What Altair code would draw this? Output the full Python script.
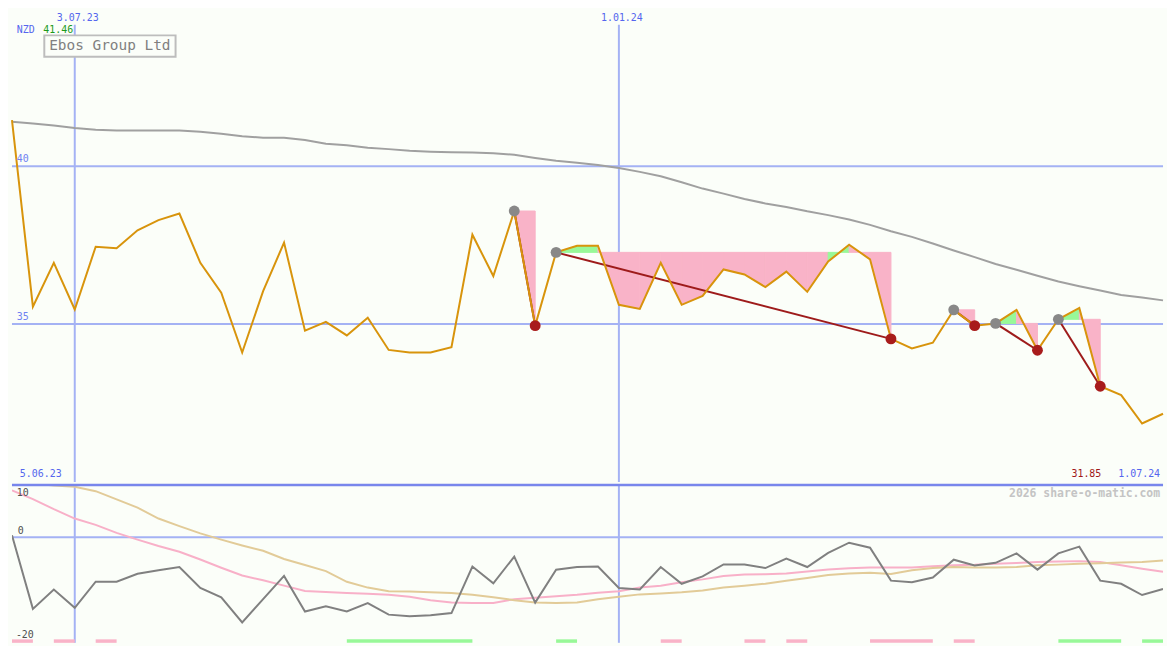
import altair as alt
import pandas as pd

# ---------------- data ----------------
price = [41.46, 35.55, 36.94, 35.46, 37.45, 37.40, 37.97, 38.29, 38.50, 36.94,
         35.99, 34.10, 36.04, 37.58, 34.79, 35.07, 34.64, 35.20, 34.18, 34.10,
         34.10, 34.27, 37.83, 36.52, 38.58, 34.95, 37.27, 37.48, 37.48, 35.61,
         35.48, 36.94, 35.61, 35.89, 36.73, 36.57, 36.17, 36.66, 36.02, 36.98,
         37.51, 37.05, 34.53, 34.23, 34.41, 35.45, 34.95, 35.02, 35.45, 34.17,
         35.15, 35.51, 33.03, 32.75, 31.85, 32.16]
ma = [41.41, 41.35, 41.29, 41.21, 41.15, 41.13, 41.13, 41.13, 41.13, 41.09,
      41.03, 40.95, 40.90, 40.90, 40.83, 40.71, 40.66, 40.58, 40.54, 40.49,
      40.46, 40.44, 40.43, 40.41, 40.36, 40.26, 40.17, 40.11, 40.04, 39.94,
      39.82, 39.68, 39.49, 39.29, 39.13, 38.96, 38.82, 38.71, 38.57, 38.45,
      38.31, 38.14, 37.94, 37.76, 37.55, 37.33, 37.12, 36.90, 36.72, 36.53,
      36.35, 36.20, 36.06, 35.92, 35.84, 35.75]
osc = [0.37, -13.7, -10.0, -13.5, -8.5, -8.5, -7.0, -6.3, -5.7, -9.7,
       -11.5, -16.3, -11.85, -7.4, -14.2, -13.2, -14.2, -12.6, -14.8, -15.1,
       -14.9, -14.5, -5.6, -8.8, -3.7, -12.5, -6.2, -5.7, -5.6, -9.7,
       -10.0, -5.7, -8.9, -7.5, -5.2, -5.2, -5.9, -4.1, -5.7, -3.0,
       -1.05, -2.0, -8.3, -8.6, -7.7, -4.3, -5.4, -4.9, -3.1, -6.2,
       -3.1, -1.8, -8.3, -8.9, -11.05, -9.9]
osc_pink = [8.94, 7.28, 5.37, 3.57, 2.35, 0.83, -0.46, -1.67, -2.78, -4.26,
            -5.83, -7.31, -8.24, -9.26, -10.28, -10.46, -10.65, -10.8, -11.02, -11.39,
            -12.04, -12.5, -12.59, -12.59, -11.85, -11.57, -11.3, -11.02, -10.61, -10.31,
            -9.63, -9.26, -8.61, -8.06, -7.41, -7.13, -7.09, -6.94, -6.57, -6.17,
            -5.93, -5.80, -5.80, -5.80, -5.56, -5.37, -5.28, -5.09, -4.91, -4.72,
            -4.63, -4.57, -4.76, -5.37, -6.02, -6.61]
osc_tan = [10.55, 10.28, 9.9, 9.63, 8.8, 7.22, 5.65, 3.57, 2.13, 0.74,
           -0.46, -1.57, -2.59, -4.17, -5.31, -6.48, -8.52, -9.63, -10.31, -10.4,
           -10.52, -10.65, -11.02, -11.48, -12.04, -12.48, -12.59, -12.5, -11.85, -11.39,
           -10.93, -10.74, -10.52, -10.19, -9.63, -9.26, -8.89, -8.33, -7.78, -7.22,
           -6.94, -6.80, -7.04, -6.30, -5.89, -5.69, -5.78, -5.78, -5.69, -5.37,
           -5.24, -5.09, -4.96, -4.85, -4.72, -4.44]

peaks = [24, 26, 45, 47, 50]
troughs = [25, 42, 46, 49, 52]
grid_prices = [40, 35]
date_idx = [3, 29]
date_labels = ["3.07.23", "1.01.24"]
first_date = "5.06.23"
last_date = "1.07.24"
currency = "NZD"
company = "Ebos Group Ltd"
osc_ticks = [10, 0, -20]
osc_tick_labels = ["10", "0", "-20"]
bar_start = [0, 2, 4, 16, 26, 31, 35, 37, 41, 45, 50, 54]
bar_end = [1, 3, 5, 22, 27, 32, 36, 38, 44, 46, 53, 55]
bar_kind = ["down", "down", "down", "up", "up", "down", "down", "down", "down", "down", "up", "up"]
watermark = "2026 share-o-matic.com"

# ---------------- geometry ----------------
W = 1159
SX = W / 1175.0
SY = 634 / 650.0
H1 = 475
H2 = 159
N = len(price)

BG = "#fbfef9"
GRID = "#a4b2f4"
BLUE_TXT = "#5566ee"
FONT = "DejaVu Sans Mono"
PINK = "#f9b3c8"
GREEN = "#98f898"

xs = alt.Scale(domain=[0, N - 1], nice=False, zero=False)
ys = alt.Scale(domain=[30, 44.94], nice=False, zero=False)
ys2 = alt.Scale(domain=[-20.19, 10], nice=False, zero=False)

df = pd.DataFrame({"i": list(range(N)), "price": price, "ma": ma,
                   "osc": osc, "pink": osc_pink, "tan": osc_tan})

# fill segments between each peak level and the price line
rows = []
seg = 0
for p, t in zip(peaks, troughs):
    lvl = price[p]
    for k in range(p, t):
        kind = "up" if price[k + 1] >= lvl else "down"
        rows.append({"seg": seg, "i": k, "p": price[k], "lvl": lvl, "kind": kind})
        rows.append({"seg": seg, "i": k + 1, "p": price[k + 1], "lvl": lvl, "kind": kind})
        seg += 1
df_fill = pd.DataFrame(rows)

trend_rows = []
for n, (p, t) in enumerate(zip(peaks, troughs)):
    trend_rows.append({"pair": n, "i": p, "v": price[p]})
    trend_rows.append({"pair": n, "i": t, "v": price[t]})
df_trend = pd.DataFrame(trend_rows)

df_peaks = pd.DataFrame({"i": peaks, "v": [price[k] for k in peaks]})
df_troughs = pd.DataFrame({"i": troughs, "v": [price[k] for k in troughs]})
df_grid = pd.DataFrame({"v": grid_prices, "t": [str(g) for g in grid_prices]})
df_dates = pd.DataFrame({"i": date_idx, "t": date_labels})
df_bars = pd.DataFrame({"s": bar_start, "e": bar_end, "kind": bar_kind})
one = pd.DataFrame({"a": [0]})

X = alt.X("i:Q", scale=xs, axis=None)
kind_scale = alt.Scale(domain=["up", "down"], range=[GREEN, PINK])
color_kind = alt.Color("kind:N", scale=kind_scale, legend=None)
stroke_kind = alt.Stroke("kind:N", scale=kind_scale, legend=None)


def label(text, px, py, color, size=10, align="left", weight="normal", baseline="middle"):
    return alt.Chart(one).mark_text(text=text, font=FONT, fontSize=size, color=color,
                                    align=align, baseline=baseline, fontWeight=weight).encode(
        x=alt.value(px), y=alt.value(py))


# ---------------- top panel ----------------
hlines = alt.Chart(df_grid).mark_rule(color=GRID, strokeWidth=2).encode(
    y=alt.Y("v:Q", scale=ys, axis=None))
vlines = alt.Chart(df_dates).mark_rule(color=GRID, strokeWidth=2).encode(
    x=X, y=alt.value(15 * SY), y2=alt.value(H1))
ma_line = alt.Chart(df).mark_line(color="#a0a0a0", strokeWidth=2).encode(
    x=X, y=alt.Y("ma:Q", scale=ys, axis=None))
fills = alt.Chart(df_fill).mark_area(opacity=1, interpolate="linear", strokeWidth=1).encode(
    x=X, y=alt.Y("p:Q", scale=ys, axis=None), y2="lvl:Q",
    color=color_kind, stroke=stroke_kind, detail="seg:N")
trend = alt.Chart(df_trend).mark_line(color="#9e1b1b", strokeWidth=2).encode(
    x=X, y=alt.Y("v:Q", scale=ys, axis=None), detail="pair:N")
price_line = alt.Chart(df).mark_line(color="#d8940c", strokeWidth=2).encode(
    x=X, y=alt.Y("price:Q", scale=ys, axis=None))
peak_pts = alt.Chart(df_peaks).mark_circle(color="#888888", opacity=1, size=120).encode(
    x=X, y=alt.Y("v:Q", scale=ys, axis=None))
trough_pts = alt.Chart(df_troughs).mark_circle(color="#a81c1c", opacity=1, size=120).encode(
    x=X, y=alt.Y("v:Q", scale=ys, axis=None))

grid_txt = alt.Chart(df_grid).mark_text(font=FONT, fontSize=10, color="#7082f2", align="left",
                                        baseline="bottom", dy=-2).encode(
    x=alt.value(5 * SX), y=alt.Y("v:Q", scale=ys, axis=None), text="t:N")
date_txt = alt.Chart(df_dates).mark_text(font=FONT, fontSize=10, color=BLUE_TXT, align="center",
                                         baseline="middle", dx=3).encode(
    x=X, y=alt.value(8 * SY), text="t:N")

box = alt.Chart(one).mark_rect(fill=BG, stroke="#bdbdbd", strokeWidth=2).encode(
    x=alt.value(33 * SX), x2=alt.value(167 * SX), y=alt.value(26 * SY), y2=alt.value(48 * SY))

top = alt.layer(
    hlines, vlines, ma_line, fills, trend, price_line, peak_pts, trough_pts,
    grid_txt, date_txt, box,
    label(company, 38 * SX, 37 * SY, "#808080", size=14.5),
    label(currency, 5 * SX, 20 * SY, BLUE_TXT, size=10),
    label("%.2f" % max(price), 32 * SX, 20 * SY, "#1b9a1b", size=10),
    label(first_date, 8 * SX, 479 * SY, BLUE_TXT, size=10),
    label("%.2f" % min(price), 1112 * SX, 479 * SY, "#a01818", size=10, align="right"),
    label(last_date, 1172 * SX, 479 * SY, BLUE_TXT, size=10, align="right"),
).properties(width=W, height=H1)

# ---------------- bottom panel ----------------
Y2 = lambda f: alt.Y(f, scale=ys2, axis=None)
zero_rule = alt.Chart(pd.DataFrame({"v": [0]})).mark_rule(color=GRID, strokeWidth=2).encode(y=Y2("v:Q"))
top_rule = alt.Chart(pd.DataFrame({"v": [10]})).mark_rule(color="#7886ec", strokeWidth=2.5).encode(y=Y2("v:Q"))
vlines2 = alt.Chart(df_dates).mark_rule(color=GRID, strokeWidth=2).encode(
    x=X, y=alt.value(0), y2=alt.value(H2))
pink_line = alt.Chart(df).mark_line(color="#f8b0c8", strokeWidth=2, clip=True).encode(x=X, y=Y2("pink:Q"))
tan_line = alt.Chart(df).mark_line(color="#e2cb98", strokeWidth=2, clip=True).encode(x=X, y=Y2("tan:Q"))
osc_line = alt.Chart(df).mark_line(color="#808080", strokeWidth=2, clip=True).encode(x=X, y=Y2("osc:Q"))
bars = alt.Chart(df_bars).mark_rect(opacity=1).encode(
    x=alt.X("s:Q", scale=xs, axis=None), x2="e:Q",
    y=alt.value(H2 - 3.5), y2=alt.value(H2), color=color_kind)

bottom = alt.layer(
    zero_rule, vlines2, pink_line, tan_line, osc_line, bars, top_rule,
    label(osc_tick_labels[0], 5 * SX, 8 * SY, "#505050", size=10),
    label(osc_tick_labels[1], 6 * SX, 47.5 * SY, "#505050", size=10),
    label(osc_tick_labels[2], 4 * SX, 155 * SY, "#505050", size=10),
    label(watermark, 1172 * SX, 9 * SY, "#c4c4c4", size=11.5, align="right", weight="bold"),
).properties(width=W, height=H2)

chart = alt.vconcat(top, bottom, spacing=0).properties(
    padding=0, background=BG
).configure_view(stroke=None).configure_concat(spacing=0)

chart.save("out.html", embed_options={"renderer": "svg", "actions": False})
